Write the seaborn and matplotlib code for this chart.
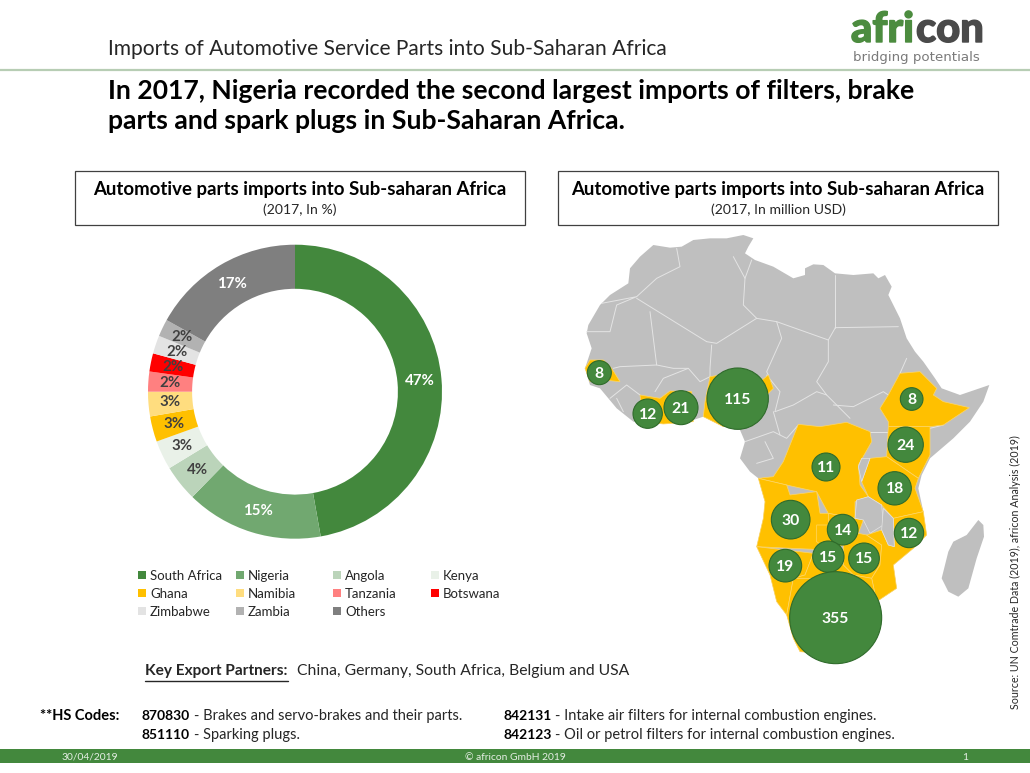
import matplotlib
matplotlib.use("Agg")
import matplotlib.pyplot as plt
import matplotlib.patheffects as pe
from matplotlib.patches import Polygon, Rectangle
import pandas as pd
import seaborn as sns

# ---------- data ----------
countries = ["South Africa", "Nigeria", "Angola", "Kenya", "Ghana", "Namibia",
             "Tanzania", "Botswana", "Zimbabwe", "Zambia", "Others"]
shares = [47.2, 15.1, 4.0, 3.2, 2.8, 2.7, 2.2, 2.0, 2.0, 1.9, 16.9]
share_colors = ["#43883D", "#71A870", "#BBD4BA", "#E9F1E8", "#FFC000", "#FFDD7F",
                "#FF8080", "#FF0000", "#E3E3E3", "#B2B2B2", "#7F7F7F"]
share_label_colors = ["white", "white", "#404040", "#404040", "#404040", "#404040",
                      "#404040", "#404040", "#404040", "#404040", "white"]

bubble_values = [8, 115, 12, 21, 8, 24, 11, 18, 30, 14, 12, 15, 15, 19, 355]
bubble_x = [118, 533, 263, 363, 1055, 1037, 798, 1004, 692, 848, 1047, 805, 912, 676, 827]
bubble_y = [443, 521, 566, 548, 522, 659, 726, 790, 884, 914, 924, 995, 1000, 1022, 1178]
bubble_r = [36, 92, 44, 51, 34, 53, 42, 50, 58, 46, 44, 47, 46, 49, 138]

hs_codes = [("870830", "- Brakes and servo-brakes and their parts.", 142, 715),
            ("851110", "- Sparking plugs.", 142, 734),
            ("842131", "- Intake air filters for internal combustion engines.", 503, 715),
            ("842123", "- Oil or petrol filters for internal combustion engines.", 503, 734)]

# ---------- map outlines (map-panel units) ----------
africa = [(80,325),(85,300),(120,240),(150,210),(205,175),(210,130),(240,95),(280,60),(330,68),(365,65),
          (400,45),(450,40),(500,40),(525,35),(550,30),(580,40),(565,65),(555,85),(585,105),(640,125),(700,160),(735,150),
          (735,130),(760,118),(790,120),(825,145),(880,150),(940,145),(955,160),(975,150),(995,185),(985,210),
          (1020,280),(1040,340),(1065,380),(1090,410),(1125,460),(1145,490),(1200,510),(1288,480),
          (1270,530),(1230,590),(1180,640),(1110,700),(1085,750),(1075,790),(1090,860),(1100,930),
          (1060,970),(1000,1020),(1010,1090),(950,1130),(915,1190),(830,1290),(720,1280),(700,1240),
          (680,1170),(650,1130),(630,1050),(590,965),(610,880),(615,830),(595,760),(570,740),
          (540,700),(555,650),(540,615),(490,605),(430,575),(370,595),(300,595),(220,590),
          (170,550),(120,490),(90,480),(75,430),(95,370)]
madagascar = [(1255,885),(1270,900),(1272,935),(1250,1000),(1225,1090),(1195,1115),(1165,1100),
              (1145,1060),(1165,980),(1180,950),(1220,930)]
yellow = [
    [(90,405),(130,405),(155,430),(180,470),(130,465),(90,470),(75,430)],
    [(240,510),(300,520),(330,498),(395,500),(400,590),(310,597),(250,590)],
    [(450,455),(480,450),(600,470),(625,450),(640,490),(610,520),(580,600),(490,605),(430,575),(435,530)],
    [(1020,445),(1080,440),(1130,490),(1120,510),(1150,530),(1228,548),(1150,600),(1110,605),
     (985,605),(985,590),(960,550),(985,510)],
    [(985,605),(1110,605),(1110,690),(1075,760),(980,695)],
    [(930,700),(980,695),(1075,760),(1065,790),(1090,860),(1000,880),(965,840),(925,815),(905,770)],
    [(715,598),(780,605),(860,592),(930,620),(935,650),(895,720),(900,780),(925,815),(885,830),
     (885,880),(805,865),(770,800),(680,780),(595,760),(640,755),(670,710)],
    [(595,760),(680,780),(690,810),(770,800),(780,865),(805,865),(805,975),(590,965),(610,880),(615,830)],
    [(770,900),(805,900),(805,865),(885,880),(910,885),(895,925),(850,960),(805,975),(770,950)],
    [(850,960),(895,925),(920,930),(965,960),(960,1020),(935,1060),(880,1050),(850,1020)],
    [(1000,880),(1090,860),(1100,930),(1060,970),(1000,1020),(1010,1090),(950,1130),(935,1060),
     (960,1020),(965,960),(920,930),(965,915),(985,960),(1003,965)],
    [(590,965),(760,985),(735,1050),(700,1060),(680,1170),(650,1130),(630,1050)],
    [(735,1050),(760,985),(805,975),(850,1020),(880,1050),(800,1060),(700,1060)],
    [(700,1060),(800,1060),(880,1050),(935,1060),(950,1130),(915,1190),(830,1290),(720,1280),(700,1240),(680,1170)],
]
borders = [
    [(230,215),(290,160),(360,125),(350,70)], [(80,320),(150,320),(170,240),(230,215),(125,235)],
    [(230,220),(440,350)], [(270,260),(290,420),(180,425),(160,430)],
    [(520,95),(555,160),(575,105)], [(555,160),(550,240),(590,280)], [(440,350),(470,355),(590,280)],
    [(825,150),(825,310)], [(650,290),(805,345),(825,310)], [(590,280),(650,290)], [(825,308),(1015,305)],
    [(650,290),(665,340),(620,440),(625,450)], [(455,360),(450,430),(450,455)],
    [(805,345),(805,410),(770,470),(800,510)], [(620,450),(660,500),(645,560)],
    [(645,560),(700,540),(770,500),(800,510),(870,580)], [(820,540),(880,545),(970,500),(985,510)],
    [(290,420),(340,430),(385,430),(420,470),(450,455)], [(285,500),(310,460),(385,430)],
    [(150,520),(200,480),(240,510)], [(170,520),(190,560)], [(555,650),(640,620),(680,640),(715,600)],
    [(590,715),(640,700),(615,650)], [(1040,400),(1020,445)], [(1110,610),(1150,600)],
    [(930,620),(985,620)], [(640,560),(660,630)],
]
for_gray_on_top = [
    [(890,825),(925,815),(965,840),(970,900),(930,925),(910,885),(885,880)],
    [(970,850),(1000,880),(1003,965),(985,960),(965,915)],
    [(905,700),(930,700),(905,770),(895,725)],
]

# ---------- page ----------
sns.set_theme(style="white")
plt.rcParams["font.family"] = ["Lato", "DejaVu Sans"]
fig = plt.figure(figsize=(10.3, 7.73), dpi=100, facecolor="white")
W, H = 1030, 773

def px_axes(x, y, w, h, **kw):
    return fig.add_axes([x / W, 1 - (y + h) / H, w / W, h / H], **kw)

page = px_axes(0, 0, W, H)
page.set_xlim(0, W); page.set_ylim(H, 0); page.axis("off")
DARK = "#262626"

def T(x, y, s, size, weight="normal", color=DARK, ha="left", **kw):
    return page.text(x, y + 1, s, fontsize=size, fontweight=weight, color=color, ha=ha, va="center", **kw)

T(108, 48, "Imports of Automotive Service Parts into Sub-Saharan Africa", 15.1)
page.plot([0, W], [70, 70], color="#B7CDB4", lw=1.6)
T(108, 90, "In 2017, Nigeria recorded the second largest imports of filters, brake", 19.1, "bold", "black")
T(108, 120, "parts and spark plugs in Sub-Saharan Africa.", 19.1, "bold", "black")

# logo
logo_a = T(851, 29, "afri", 30, "black", "#4C8C3F")
logo_b = T(916, 29, "con", 30, "black", "#4A4A4A")
logo_a.set_path_effects([pe.withStroke(linewidth=1.0, foreground="#4C8C3F")])
logo_b.set_path_effects([pe.withStroke(linewidth=1.0, foreground="#4A4A4A")])
T(853, 57, "bridging potentials", 9.6, color="#7A7A7A", family="DejaVu Sans")

# header boxes
for x0, x1, sub in [(75, 525, "(2017, In %)"), (558, 998, "(2017, In million USD)")]:
    page.add_patch(Rectangle((x0, 171), x1 - x0, 54, fc="white", ec="#404040", lw=0.9))
    T((x0 + x1) / 2, 189, "Automotive parts imports into Sub-saharan Africa", 13.4, "bold", "black", ha="center")
    T((x0 + x1) / 2, 209, sub, 10.1, ha="center")

# ---------- donut ----------
ax = px_axes(148, 244.7, 294, 294)
wedges, _, autotexts = ax.pie(shares, colors=share_colors, startangle=90, counterclock=False,
                              radius=1, wedgeprops=dict(width=0.30, linewidth=0),
                              autopct=lambda p: f"{p:.0f}%", pctdistance=0.85)
for t, c in zip(autotexts, share_label_colors):
    t.set_color(c); t.set_fontsize(10.8); t.set_fontweight("bold")
ax.set_xlim(-1, 1); ax.set_ylim(-1, 1)

# legend
leg_x = [138, 236, 333, 431]
leg_y = [575, 593, 611]
leg_df = pd.DataFrame({
    "x": [leg_x[i % 4] + 4 for i in range(len(countries))],
    "y": [leg_y[i // 4] for i in range(len(countries))],
})
sns.scatterplot(data=leg_df, x="x", y="y", ax=page, marker="s", s=30, c=share_colors,
                linewidth=0, legend=False, zorder=3)
for i, name in enumerate(countries):
    T(leg_x[i % 4] + 12, leg_y[i // 4], name, 9.5)
page.set_xlim(0, W); page.set_ylim(H, 0); page.axis("off")

# ---------- map ----------
m = px_axes(560, 225, 440, 440)
m.set_xlim(0, 1320); m.set_ylim(1320, 0); m.axis("off")
GRAY = "#BFBFBF"
m.add_patch(Polygon(africa, closed=True, fc=GRAY, ec="none"))
m.add_patch(Polygon(madagascar, closed=True, fc=GRAY, ec="none"))
for b in borders:
    xs, ys = zip(*b)
    m.plot(xs, ys, color="#E4E4E4", lw=0.7, zorder=2)
for p in yellow:
    m.add_patch(Polygon(p, closed=True, fc="#FFC000", ec="#FFD765", lw=0.5, zorder=3))
for p in for_gray_on_top:
    m.add_patch(Polygon(p, closed=True, fc=GRAY, ec="#E4E4E4", lw=0.5, zorder=4))

bubbles = pd.DataFrame({"value": bubble_values, "x": bubble_x, "y": bubble_y, "r": bubble_r})
areas = (2 * bubbles["r"] / 3 * 0.72) ** 2
sns.scatterplot(data=bubbles, x="x", y="y", ax=m, s=areas, color="#43883D",
                edgecolor="#2F6B2B", linewidth=0.8, legend=False, zorder=5, clip_on=False)
for _, row in bubbles.iterrows():
    m.text(row["x"], row["y"] + 3, f"{int(row['value'])}", color="white", fontsize=11.3,
           fontweight="bold", ha="center", va="center", zorder=6)
m.set_xlim(0, 1320); m.set_ylim(1320, 0); m.axis("off")

# source
T(1015, 571, "Source: UN Comtrade Data (2019), africon Analysis (2019)", 7.65, ha="center", rotation=90, rotation_mode="anchor")

# ---------- bottom notes ----------
T(145, 670, "Key Export Partners:", 11.05, "bold")
page.plot([145, 288], [681, 681], color=DARK, lw=1)
T(297, 670, "China, Germany, South Africa, Belgium and USA", 11.3)
T(40, 715, "**HS Codes:", 10.5, "bold", "black")
for code, desc, x, y in hs_codes:
    T(x, y, code, 10, "bold", "black")
    T(x + 52, y, desc, 10.5)

page.add_patch(Rectangle((0, 749), W, 14, fc="#43883D", ec="none"))
T(62, 756, "30/04/2019", 7.4, color="#E6EFE5")
T(515, 756, "© africon GmbH 2019", 7.4, color="#E6EFE5", ha="center")
T(965, 756, "1", 7.4, color="#E6EFE5", ha="center")

fig.savefig("out.png", dpi=100)
